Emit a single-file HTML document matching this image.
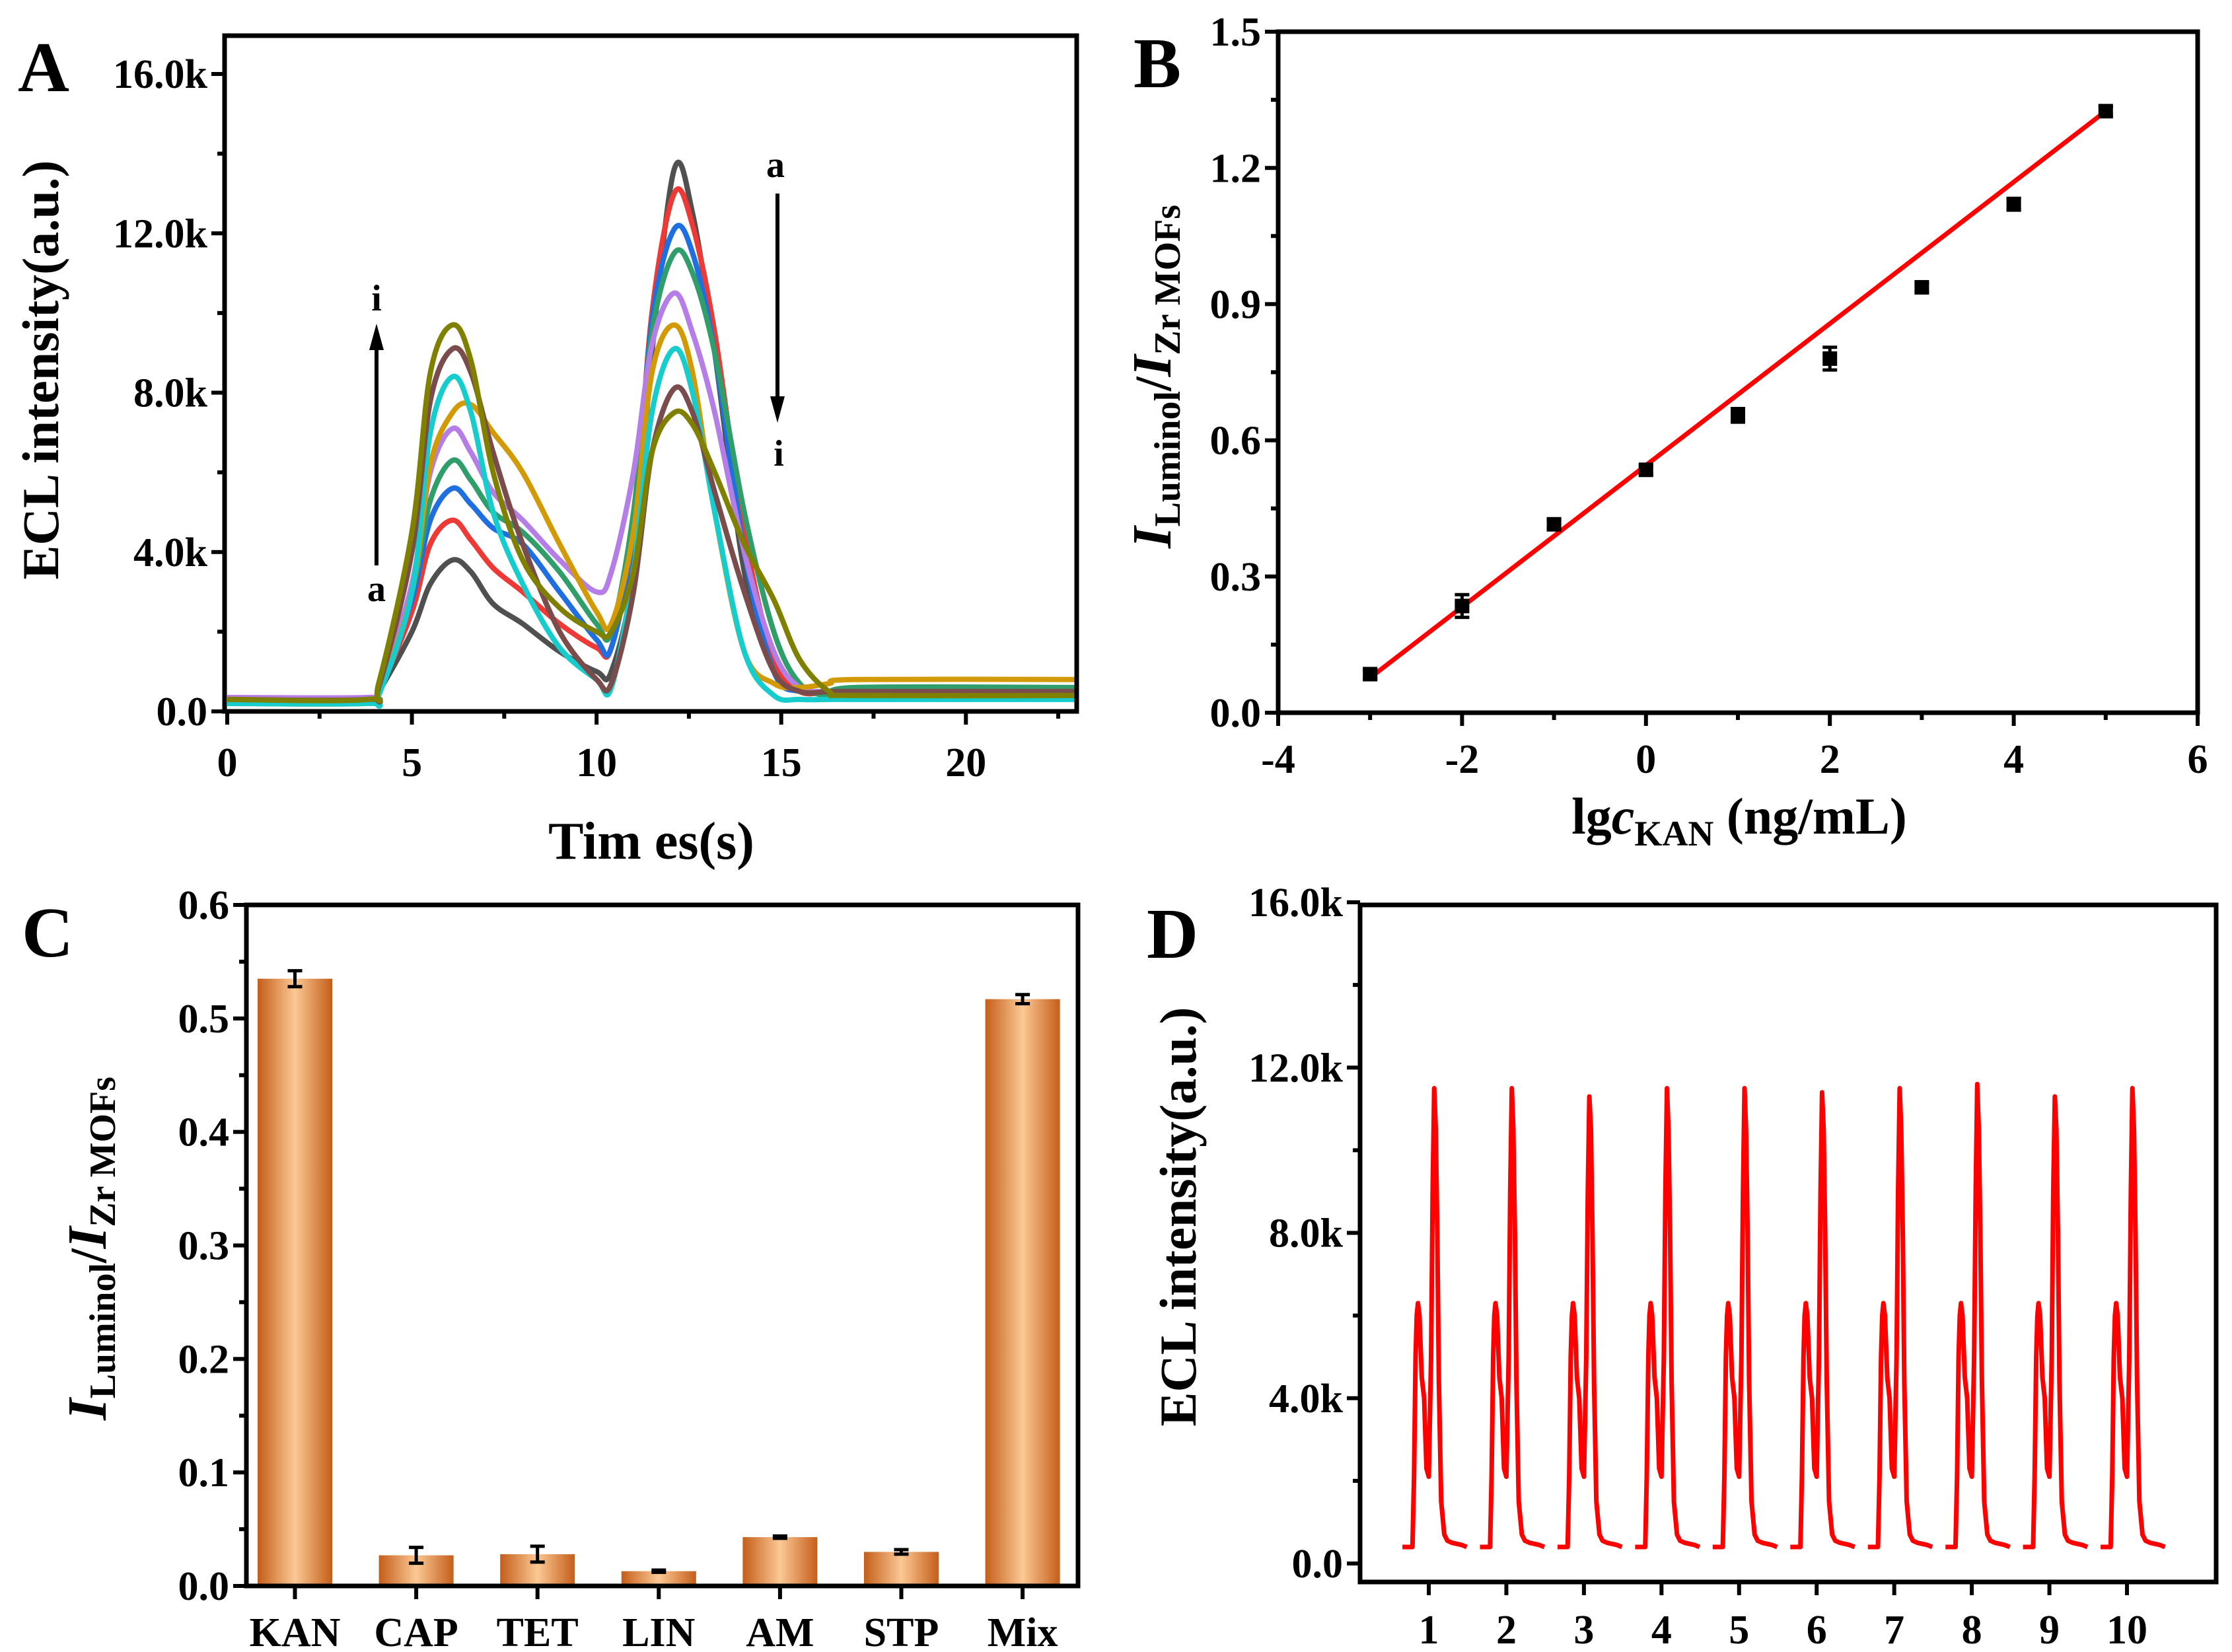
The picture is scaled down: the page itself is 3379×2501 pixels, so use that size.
<!DOCTYPE html>
<html><head><meta charset="utf-8"><style>
html,body{margin:0;padding:0;background:#fff;}
svg{display:block;font-family:"Liberation Serif",serif;font-weight:bold;}
</style></head><body>
<svg id="fig" xmlns="http://www.w3.org/2000/svg" width="3379" height="2501" viewBox="0 0 3379 2501">
<defs>
<linearGradient id="barGrad" x1="0" x2="1" y1="0" y2="0">
<stop offset="0" stop-color="#c45e1a"/><stop offset="0.5" stop-color="#fcc894"/><stop offset="1" stop-color="#c45e1a"/>
</linearGradient>
</defs>
</svg>
<script>
// ---- Panel A data ----
const timesA = [0,3.8,4.1,5,5.5,6.1,6.6,7.2,8,9,10,10.4,11,11.5,12.1,12.6,13.2,14,14.8,15.5,16.3,17,23];
const curveA_a = [300,300,500,2000,3200,3800,3500,2700,2200,1500,1000,1000,3500,9000,13600,12500,9000,3500,1000,500,500,500,400];
const curveA_b = [250,250,500,2500,4200,4800,4300,3600,3000,2200,1600,1600,4500,10000,13000,12200,9500,4500,1300,500,500,500,400];
const curveA_c = [250,250,500,2800,4800,5600,5200,4600,4200,3000,1800,1600,4500,9800,12100,11500,9000,4000,1000,500,500,500,500];
const curveA_d = [300,300,500,3000,5300,6300,5800,5000,4500,3500,2200,2000,5000,9500,11500,11000,9000,5000,2000,700,400,600,600];
const curveA_e = [350,350,500,3200,6000,7100,6500,5500,4800,3800,3000,3500,6000,9200,10500,9500,7500,4000,1500,600,500,500,500];
const curveA_f = [200,200,400,3000,6200,7500,7700,7000,6000,4200,2500,2200,4500,8500,9700,8500,5000,1500,700,600,700,800,800];
const curveA_g = [200,200,400,3000,7000,8400,7500,5000,3200,1600,800,600,3500,7500,9100,8000,5000,1500,400,300,300,300,300];
const curveA_h = [300,300,600,4000,7800,9100,8500,6500,4200,2000,800,700,3000,6500,8100,7500,5500,3000,1000,500,500,500,500];
const curveA_i = [300,300,700,4500,8500,9700,8800,6000,3800,2600,2000,2000,3500,6500,7500,7200,6000,4200,2800,1300,500,400,400];
const yTicksA = [0,4000,8000,12000,16000];
const yTickLabelsA = ["0.0","4.0k","8.0k","12.0k","16.0k"];
const xTicksA = [0,5,10,15,20];
// ---- Panel B data ----
const concB = [-3,-2,-1,0,1,2,3,4,5];
const ratioB = [0.085,0.235,0.415,0.535,0.655,0.78,0.937,1.12,1.325];
const errB = [0.01,0.025,0.01,0.01,0.015,0.025,0.01,0.013,0.01];
const fitSlopeB = 0.156;
const fitInterceptB = 0.545;
const yTicksB = [0,0.3,0.6,0.9,1.2,1.5];
const yTickLabelsB = ["0.0","0.3","0.6","0.9","1.2","1.5"];
const xTicksB = [-4,-2,0,2,4,6];
// ---- Panel C data ----
const categoriesC = ["KAN","CAP","TET","LIN","AM","STP","Mix"];
const valuesC = [0.535,0.027,0.028,0.013,0.043,0.030,0.517];
const errC = [0.007,0.007,0.007,0.001,0.001,0.002,0.004];
const yTicksC = [0,0.1,0.2,0.3,0.4,0.5,0.6];
const yTickLabelsC = ["0.0","0.1","0.2","0.3","0.4","0.5","0.6"];
// ---- Panel D data ----
const cyclesD = [1,2,3,4,5,6,7,8,9,10];
const peak1D = [6300,6300,6300,6300,6300,6300,6300,6300,6300,6300];
const peak2D = [11500,11500,11300,11500,11500,11400,11500,11600,11300,11500];
const shapeOffsetD = [-0.34,-0.21,-0.19,-0.17,-0.155,-0.14,-0.12,-0.09,-0.06,-0.03,0.0,0.03,0.05,0.07,0.09,0.11,0.13,0.16,0.2,0.24,0.3,0.42,0.49];
const shapeValueD = [400,400,2100,5000,6000,null,6000,4500,4000,2300,2100,5000,9000,null,10500,8000,4400,1500,700,550,500,450,400];
const yTicksD = [0,4000,8000,12000,16000];
const yTickLabelsD = ["0.0","4.0k","8.0k","12.0k","16.0k"];

const svg = document.getElementById('fig');
const NS = 'http://www.w3.org/2000/svg';
function mk(tag, attrs, parent){ const e=document.createElementNS(NS,tag); for(const k in attrs) e.setAttribute(k,attrs[k]); (parent||svg).appendChild(e); return e; }
function lin(d0,d1,r0,r1){ return v => r0 + (v-d0)*(r1-r0)/(d1-d0); }
function txt(x,y,s,size,anchor,parent){ const t=mk('text',{x:x,y:y,'font-size':size,'text-anchor':anchor||'middle'},parent); t.textContent=s; return t; }

function frame(g,L,T,R,B){
  const r=mk('rect',{x:L,y:T,width:R-L,height:B-T,fill:'none',stroke:'#000','stroke-width':7},g);
  
  
}
function yAxis(g,L,ys,ticks,labels,minors,fs,name){
  const ax=mk('g',{},g);
  
  
  ticks.forEach((v,i)=>{
    mk('line',{x1:L-20,x2:L,y1:ys(v),y2:ys(v),stroke:'#000','stroke-width':6},ax);
    const t=txt(L-26,ys(v)+fs*0.34,labels[i],fs,'end',ax);
    
    
  });
  minors.forEach(v=>mk('line',{x1:L-11,x2:L,y1:ys(v),y2:ys(v),stroke:'#000','stroke-width':6},ax));
}
function xAxis(g,B,xs,ticks,labels,minors,fs,ly,name){
  const ax=mk('g',{},g);
  
  
  ticks.forEach((v,i)=>{
    mk('line',{x1:xs(v),x2:xs(v),y1:B,y2:B+20,stroke:'#000','stroke-width':6},ax);
    const t=txt(xs(v),ly,labels[i],fs,'middle',ax);
    
    
  });
  minors.forEach(v=>mk('line',{x1:xs(v),x2:xs(v),y1:B,y2:B+11,stroke:'#000','stroke-width':6},ax));
}
function smoothPath(pts){
  let d='M'+pts[0][0]+','+pts[0][1];
  for(let i=0;i<pts.length-1;i++){
    const p0=pts[Math.max(0,i-1)],p1=pts[i],p2=pts[i+1],p3=pts[Math.min(pts.length-1,i+2)];
    const c1x=p1[0]+(p2[0]-p0[0])/6,c1y=p1[1]+(p2[1]-p0[1])/6;
    const c2x=p2[0]-(p3[0]-p1[0])/6,c2y=p2[1]-(p3[1]-p1[1])/6;
    d+=' C'+c1x+','+c1y+' '+c2x+','+c2y+' '+p2[0]+','+p2[1];
  }
  return d;
}
function panelLetter(x,y,s){ const t=txt(x,y,s,108,'middle');   }

// ===== Panel A =====
(function(){
  const L=340,R=1630,T=54,B=1077;
  const g=mk('g',{});
  
  
  const xs=lin(0,23,344,1630), ys=lin(0,16000,1077,112);
  const curves=[curveA_a,curveA_b,curveA_c,curveA_d,curveA_e,curveA_f,curveA_g,curveA_h,curveA_i];
  const colors=['#505050','#ee3a36','#1f6fe0','#2f9e6a','#b57ee6','#d29a06','#16cccc','#7a4c4c','#808000'];
  const names=['curve-a','curve-b','curve-c','curve-d','curve-e','curve-f','curve-g','curve-h','curve-i'];
  curves.forEach((c,k)=>{
    const p=mk('path',{d:smoothPath(timesA.map((t,i)=>[xs(t),Math.min(ys(c[i]),1072)])),fill:'none',stroke:colors[k],'stroke-width':8,'stroke-linejoin':'round'},g);
    
    
  });
  frame(g,L,T,R,B);
  yAxis(g,L,ys,yTicksA,yTickLabelsA,[2000,6000,10000,14000],62,'y-axis-a');
  xAxis(g,B,xs,xTicksA,xTicksA.map(String),[2.5,7.5,12.5,17.5,22.5],62,1175,'x-axis-a');
  const yt=txt(0,0,'ECL intensity(a.u.)',78,'middle'); yt.setAttribute('transform','translate(88,560) rotate(-90)');
  
  
  const xt=txt(986,1300,'Tim es(s)',80,'middle');
  
  
  const up=mk('g',{});
  
  
  mk('line',{x1:570,y1:856,x2:570,y2:520,stroke:'#000','stroke-width':6},up);
  mk('polygon',{points:'559,530 581,530 570,490',fill:'#000'},up);
  txt(570,470,'i',56,'middle',up); txt(570,910,'a',56,'middle',up);
  const dn=mk('g',{});
  
  
  mk('line',{x1:1177,y1:293,x2:1177,y2:610,stroke:'#000','stroke-width':6},dn);
  mk('polygon',{points:'1166,600 1188,600 1177,640',fill:'#000'},dn);
  txt(1174,268,'a',56,'middle',dn); txt(1179,705,'i',56,'middle',dn);
  panelLetter(66,138,'A');
})();

// ===== Panel B =====
(function(){
  const L=1935,R=3327,T=48,B=1079;
  const g=mk('g',{});
  
  
  const xs=lin(-4,6,L,R), ys=lin(0,1.5,B,T);
  frame(g,L,T,R,B);
  yAxis(g,L,ys,yTicksB,yTickLabelsB,[0.15,0.45,0.75,1.05,1.35],62,'y-axis-b');
  xAxis(g,B,xs,xTicksB,xTicksB.map(String),[-3,-1,1,3,5],62,1170,'x-axis-b');
  const fit=mk('line',{x1:xs(concB[0]),y1:ys(fitSlopeB*concB[0]+fitInterceptB),x2:xs(concB[concB.length-1]),y2:ys(fitSlopeB*concB[concB.length-1]+fitInterceptB),stroke:'#ff0000','stroke-width':7},g);
  
  
  concB.forEach((c,i)=>{
    const pg=mk('g',{},g);
    
    
    const x=xs(c),y=ys(ratioB[i]),e1=ys(ratioB[i]+errB[i]),e2=ys(ratioB[i]-errB[i]);
    mk('line',{x1:x,x2:x,y1:e1,y2:e2,stroke:'#000','stroke-width':5},pg);
    mk('line',{x1:x-11,x2:x+11,y1:e1,y2:e1,stroke:'#000','stroke-width':5},pg);
    mk('line',{x1:x-11,x2:x+11,y1:e2,y2:e2,stroke:'#000','stroke-width':5},pg);
    mk('rect',{x:x-11,y:y-11,width:22,height:22,fill:'#000'},pg);
  });
  const yt=mk('text',{transform:'translate(1772,570) rotate(-90)','text-anchor':'middle','font-size':78});
  
  
  yt.innerHTML='<tspan font-style="italic" font-size="84">I</tspan><tspan font-size="56" dy="14">Luminol</tspan><tspan dy="-14">/</tspan><tspan font-style="italic" font-size="84">I</tspan><tspan font-size="56" dy="14">Zr MOFs</tspan>';
  const xt=mk('text',{x:2633,y:1262,'text-anchor':'middle','font-size':78});
  
  
  xt.innerHTML='lg<tspan font-style="italic">c</tspan><tspan font-size="54" dy="18">KAN</tspan><tspan dy="-18"> (ng/mL)</tspan>';
  panelLetter(1752,132,'B');
})();

// ===== Panel C =====
(function(){
  const L=373,R=1632,T=1370,B=2401;
  const g=mk('g',{});
  
  
  const ys=lin(0,0.6,B,T);
  const xc=i=>446.5+i*183.6;
  const bw=113;
  categoriesC.forEach((c,i)=>{
    const bg=mk('g',{},g);
    
    
    mk('rect',{x:xc(i)-bw/2,y:ys(valuesC[i]),width:bw,height:B-ys(valuesC[i]),fill:'url(#barGrad)'},bg);
    const e1=ys(valuesC[i]+errC[i]),e2=ys(valuesC[i]-errC[i]);
    mk('line',{x1:xc(i),x2:xc(i),y1:e1,y2:e2,stroke:'#000','stroke-width':5},bg);
    mk('line',{x1:xc(i)-11,x2:xc(i)+11,y1:e1,y2:e1,stroke:'#000','stroke-width':5},bg);
    mk('line',{x1:xc(i)-11,x2:xc(i)+11,y1:e2,y2:e2,stroke:'#000','stroke-width':5},bg);
  });
  frame(g,L,T,R,B);
  yAxis(g,L,ys,yTicksC,yTickLabelsC,[0.05,0.15,0.25,0.35,0.45,0.55],62,'y-axis-c');
  const xa=mk('g',{},g);
  
  
  categoriesC.forEach((c,i)=>{
    mk('line',{x1:xc(i),x2:xc(i),y1:B,y2:B+20,stroke:'#000','stroke-width':6},xa);
    const t=txt(xc(i),2492,c,62,'middle',xa);
    
    
  });
  const yt=mk('text',{transform:'translate(160,1890) rotate(-90)','text-anchor':'middle','font-size':78});
  
  
  yt.innerHTML='<tspan font-style="italic" font-size="84">I</tspan><tspan font-size="56" dy="14">Luminol</tspan><tspan dy="-14">/</tspan><tspan font-style="italic" font-size="84">I</tspan><tspan font-size="56" dy="14">Zr MOFs</tspan>';
  panelLetter(72,1448,'C');
})();

// ===== Panel D =====
(function(){
  const L=2059,R=3355,T=1370,B=2395;
  const g=mk('g',{});
  
  
  const xs=lin(1,10,2163,3220), ys=lin(0,16000,2367,1366);
  let d='';
  cyclesD.forEach((c,k)=>{
    shapeOffsetD.forEach((o,j)=>{
      let v=shapeValueD[j];
      if(j===5) v=peak1D[k];
      if(j===13) v=peak2D[k];
      d+=(j===0?'M':'L')+xs(c+o).toFixed(1)+','+ys(v).toFixed(1)+' ';
    });
  });
  const p=mk('path',{d:d,fill:'none',stroke:'#ff0000','stroke-width':7,'stroke-linejoin':'round'},g);
  
  
  frame(g,L,T,R,B);
  yAxis(g,L,ys,yTicksD,yTickLabelsD,[2000,6000,10000,14000],62,'y-axis-d');
  xAxis(g,B,xs,cyclesD,cyclesD.map(String),[],62,2488,'x-axis-d');
  const yt=txt(0,0,'ECL intensity(a.u.)',78,'middle'); yt.setAttribute('transform','translate(1810,1842) rotate(-90)');
  
  
  panelLetter(1775,1450,'D');
})();
</script>
</body></html>
